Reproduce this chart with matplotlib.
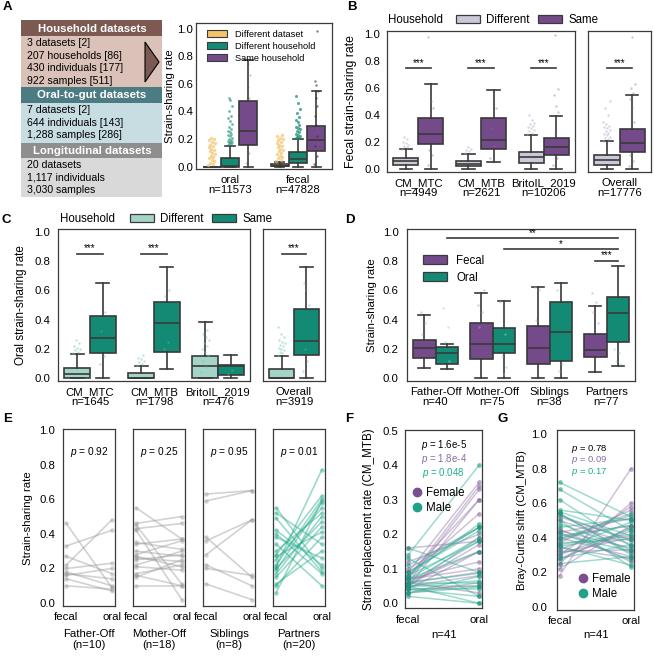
import numpy as np
import matplotlib
matplotlib.use('Agg')
import matplotlib.pyplot as plt
from matplotlib.patches import Patch, Polygon, Rectangle
from matplotlib.lines import Line2D

plt.rcParams['font.family'] = ['Liberation Sans', 'DejaVu Sans']
plt.rcParams['font.size'] = 8.2
plt.rcParams['mathtext.fontset'] = 'custom'
plt.rcParams['mathtext.it'] = 'Liberation Sans:italic'
plt.rcParams['mathtext.rm'] = 'Liberation Sans'

W, H = 654, 657
PURPLE = '#744a8a'
TEAL = '#138b74'
ORANGE = '#f4c46c'
LAVENDER = '#cdc7da'
MINT = '#a4d3c7'
EDGE = '#3a3a3a'

# ---------------- data ----------------
# A: dataset summary
sections = ['Household datasets', 'Oral-to-gut datasets', 'Longitudinal datasets']
household_lines = ['3 datasets [2]', '207 households [86]', '430 individuals [177]', '922 samples [511]']
oral_gut_lines = ['7 datasets [2]', '644 individuals [143]', '1,288 samples [286]']
longitudinal_lines = ['20 datasets', '1,117 individuals', '3,030 samples']

# box stats are (whislo, q1, median, q3, whishi)
a_sites = ['oral\nn=11573', 'fecal\nn=47828']
a_hues = ['Different dataset', 'Different household', 'Same household']
a_diff_dataset = [(0, 0, 0, 0, 0), (0, 0.002, 0.006, 0.016, 0.032)]
a_diff_household = [(0, 0, 0.003, 0.065, 0.152), (0, 0.024, 0.056, 0.104, 0.2)]
a_same_household = [(0, 0.157, 0.258, 0.478, 0.773), (0, 0.114, 0.19, 0.295, 0.546)]
a_oral_pts_dataset = [0.01, 0.02, 0.03, 0.04, 0.05, 0.06, 0.07, 0.08, 0.09, 0.10, 0.11,
                      0.12, 0.13, 0.14, 0.15, 0.16, 0.17, 0.18, 0.19, 0.20, 0.21]
a_oral_pts_house = [0.16, 0.165, 0.17, 0.175, 0.18, 0.185, 0.19, 0.20, 0.21, 0.22, 0.23,
                    0.24, 0.25, 0.26, 0.27, 0.29, 0.31, 0.33, 0.35, 0.37, 0.40, 0.44,
                    0.48, 0.50]
a_oral_pts_same = [0.03, 0.10, 0.18, 0.25, 0.33, 0.41, 0.50, 0.58, 0.66, 0.74]
a_fecal_pts_dataset = [0.04, 0.05, 0.06, 0.07, 0.08, 0.09, 0.10, 0.11, 0.12, 0.13, 0.14,
                       0.15, 0.16, 0.17, 0.18, 0.19, 0.20, 0.21, 0.22, 0.23]
a_fecal_pts_house = [0.205, 0.21, 0.215, 0.22, 0.23, 0.24, 0.25, 0.26, 0.27, 0.28, 0.29,
                     0.30, 0.32, 0.34, 0.36, 0.39, 0.42, 0.46, 0.51]
a_fecal_pts_same = [0.02, 0.08, 0.15, 0.22, 0.30, 0.37, 0.44, 0.50, 0.55, 0.59, 0.62, 0.98]

# B: fecal strain sharing by household
b_datasets = ['CM_MTC\nn=4949', 'CM_MTB\nn=2621', 'BritoIL_2019\nn=10206']
b_diff = [(0, 0.027, 0.059, 0.079, 0.148), (0, 0.02, 0.035, 0.059, 0.111), (0, 0.047, 0.091, 0.128, 0.252)]
b_same = [(0, 0.183, 0.257, 0.38, 0.627), (0.054, 0.146, 0.215, 0.38, 0.585), (0, 0.104, 0.16, 0.227, 0.395)]
b_overall = 'Overall\nn=17776'
b_overall_diff = (0, 0.03, 0.067, 0.104, 0.207)
b_overall_same = (0, 0.124, 0.195, 0.296, 0.548)
b_diff_pts = [[0.15, 0.16, 0.17, 0.18, 0.19, 0.20, 0.22, 0.24],
              [0.12, 0.13, 0.14, 0.15, 0.16],
              [0.26, 0.27, 0.28, 0.29, 0.30, 0.31, 0.32, 0.33, 0.34, 0.36, 0.40]]
b_same_pts = [[0.03, 0.10, 0.14, 0.45, 0.50, 0.98], [0.08, 0.17, 0.30, 0.45],
              [0.03, 0.08, 0.26, 0.42, 0.47, 0.55, 0.59, 0.99]]
b_overall_diff_pts = [0.21, 0.22, 0.23, 0.24, 0.25, 0.26, 0.27, 0.28, 0.29, 0.30, 0.31,
                      0.32, 0.33, 0.35, 0.40, 0.45, 0.50]
b_overall_same_pts = [0.02, 0.06, 0.10, 0.35, 0.45, 0.52, 0.56, 0.60, 0.63, 0.98]

# C: oral strain sharing by household
c_datasets = ['CM_MTC\nn=1645', 'CM_MTB\nn=1798', 'BritoIL_2019\nn=476']
c_diff = [(0, 0.003, 0.029, 0.068, 0.168), (0, 0, 0.005, 0.038, 0.086), (0, 0, 0.086, 0.154, 0.386)]
c_same = [(0, 0.175, 0.273, 0.427, 0.648), (0.063, 0.18, 0.375, 0.523, 0.761), (0.005, 0.025, 0.085, 0.092, 0.16)]
c_overall = 'Overall\nn=3919'
c_overall_diff = (0, 0, 0.003, 0.064, 0.155)
c_overall_same = (0, 0.159, 0.257, 0.473, 0.761)
c_diff_pts = [[0.17, 0.18, 0.19, 0.20, 0.21, 0.22, 0.24, 0.26],
              [0.09, 0.10, 0.11, 0.12, 0.13, 0.14, 0.16],
              [0.04, 0.08, 0.12, 0.16, 0.18, 0.20, 0.22, 0.24, 0.26, 0.28, 0.30, 0.33]]
c_same_pts = [[0.10, 0.15, 0.32, 0.45], [0.20, 0.25, 0.56, 0.60], [0.03, 0.06]]
c_overall_diff_pts = [0.16, 0.17, 0.18, 0.19, 0.20, 0.21, 0.22, 0.23, 0.24, 0.25, 0.26,
                      0.28, 0.30, 0.35]
c_overall_same_pts = [0.05, 0.12, 0.20, 0.50, 0.60, 0.65]

# D: by relationship
d_relations = ['Father-Off\nn=40', 'Mother-Off\nn=75', 'Siblings\nn=38', 'Partners\nn=77']
d_fecal = [(0.068, 0.137, 0.205, 0.262, 0.429), (0, 0.13, 0.233, 0.374, 0.582),
           (0, 0.10, 0.205, 0.354, 0.625), (0.045, 0.148, 0.194, 0.299, 0.49)]
d_oral = [(0.064, 0.096, 0.171, 0.214, 0.233), (0, 0.175, 0.233, 0.34, 0.525),
          (0, 0.121, 0.315, 0.52, 0.65), (0.082, 0.247, 0.445, 0.552, 0.764)]
d_fecal_pts = [[0.45, 0.38, 0.30], [0.50, 0.45, 0.35, 0.60], [0.62, 0.60, 0.40], [0.58, 0.52, 0.45, 0.38]]
d_oral_pts = [[0.48, 0.35, 0.25, 0.12], [0.52, 0.30, 0.15, 0.08, 0.03], [0.60, 0.10, 0.05], [0.20, 0.17, 0.12, 0.10]]
# (group, site, group, site, label); site 0 = fecal, 1 = oral
d_sig = [(0, 1, 3, 1, '**'), (1, 1, 3, 1, '*'), (3, 0, 3, 1, '***')]

# E: paired fecal vs oral sharing
e_relations = ['Father-Off\n(n=10)', 'Mother-Off\n(n=18)', 'Siblings\n(n=8)', 'Partners\n(n=20)']
e_pvals = ['0.92', '0.25', '0.95', '0.01']
fo_fecal = [0.46, 0.33, 0.27, 0.22, 0.20, 0.18, 0.17, 0.16, 0.14, 0.10]
fo_oral = [0.09, 0.42, 0.17, 0.48, 0.23, 0.10, 0.14, 0.20, 0.07, 0.08]
mo_fecal = [0.55, 0.46, 0.45, 0.43, 0.42, 0.35, 0.34, 0.30, 0.27, 0.26, 0.25, 0.22, 0.21,
            0.17, 0.16, 0.15, 0.10, 0.28]
mo_oral = [0.37, 0.50, 0.11, 0.46, 0.02, 0.31, 0.37, 0.27, 0.21, 0.24, 0.28, 0.30, 0.19,
           0.22, 0.10, 0.25, 0.10, 0.36]
sib_fecal = [0.63, 0.59, 0.38, 0.36, 0.28, 0.22, 0.20, 0.11]
sib_oral = [0.65, 0.65, 0.15, 0.48, 0.48, 0.10, 0.16, 0.02]
pa_fecal = [0.55, 0.52, 0.49, 0.42, 0.40, 0.38, 0.34, 0.30, 0.28, 0.27, 0.25, 0.22, 0.21,
            0.20, 0.19, 0.17, 0.15, 0.11, 0.10, 0.06]
pa_oral = [0.20, 0.34, 0.18, 0.22, 0.17, 0.26, 0.10, 0.52, 0.62, 0.41, 0.55, 0.60, 0.77,
           0.47, 0.58, 0.50, 0.44, 0.30, 0.38, 0.59]

# F: strain replacement rate (CM_MTB)
f_female_fecal = [0.16, 0.09, 0.07, 0.06, 0.05, 0.08, 0.04, 0.06, 0.10, 0.05, 0.07, 0.03,
                  0.06, 0.08, 0.05, 0.04, 0.07, 0.12, 0.06, 0.05]
f_female_oral = [0.18, 0.35, 0.34, 0.33, 0.30, 0.26, 0.15, 0.15, 0.22, 0.19, 0.12, 0.06,
                 0.09, 0.30, 0.17, 0.05, 0.10, 0.20, 0.03, 0.08]
f_male_fecal = [0.14, 0.16, 0.11, 0.09, 0.08, 0.07, 0.06, 0.06, 0.05, 0.05, 0.04, 0.04,
                0.03, 0.02, 0.08, 0.07, 0.05, 0.06, 0.09, 0.03, 0.13]
f_male_oral = [0.40, 0.09, 0.22, 0.21, 0.18, 0.19, 0.087, 0.06, 0.05, 0.0, 0.04, 0.02,
               0.078, 0.0, 0.23, 0.15, 0.065, 0.18, 0.22, 0.047, 0.02]
f_pvals = ['1.6e-5', '1.8e-4', '0.048']

# G: Bray-Curtis shift (CM_MTB)
g_female_fecal = [0.18, 0.22, 0.25, 0.27, 0.30, 0.32, 0.35, 0.37, 0.40, 0.43, 0.45, 0.50,
                  0.52, 0.54, 0.41, 0.38, 0.28, 0.34, 0.44, 0.31]
g_female_oral = [0.80, 0.47, 0.60, 0.46, 0.58, 0.33, 0.41, 0.56, 0.29, 0.51, 0.26, 0.36,
                 0.39, 0.31, 0.47, 0.53, 0.44, 0.28, 0.34, 0.40]
g_male_fecal = [0.72, 0.68, 0.62, 0.56, 0.54, 0.53, 0.50, 0.48, 0.46, 0.43, 0.40, 0.39,
                0.37, 0.36, 0.35, 0.33, 0.30, 0.28, 0.25, 0.42, 0.55]
g_male_oral = [0.52, 0.44, 0.35, 0.50, 0.30, 0.38, 0.23, 0.33, 0.51, 0.27, 0.47, 0.54,
               0.39, 0.42, 0.24, 0.49, 0.45, 0.36, 0.29, 0.32, 0.41]
g_pvals = ['0.78', '0.09', '0.17']

# ---------------- helpers ----------------
fig = plt.figure(figsize=(W / 100, H / 100), dpi=100)


def px_axes(l, t, r, b):
    return fig.add_axes([l / W, 1 - b / H, (r - l) / W, (b - t) / H])


def boxes(ax, pos, stats, width, color):
    st = [dict(whislo=s[0], q1=s[1], med=s[2], q3=s[3], whishi=s[4], fliers=[]) for s in stats]
    ax.bxp(st, positions=pos, widths=width, capwidths=width * 0.5, patch_artist=True,
           showfliers=False, manage_ticks=False,
           boxprops=dict(facecolor=color, edgecolor=EDGE, linewidth=1.2),
           medianprops=dict(color=EDGE, linewidth=1.2),
           whiskerprops=dict(color=EDGE, linewidth=1.2),
           capprops=dict(color=EDGE, linewidth=1.2))


def strip(ax, x, vals, color, spread, size=3, alpha=0.5):
    n = len(vals)
    off = ((np.arange(n) * 0.618) % 1 - 0.5) * spread
    ax.scatter(x + off, vals, s=size, color=color, alpha=alpha, lw=0, zorder=3)


def style(ax, ypad):
    for s in ax.spines.values():
        s.set_color(EDGE)
        s.set_linewidth(0.9)
    ax.tick_params(axis='both', length=0)
    ax.tick_params(axis='y', pad=ypad)
    ax.tick_params(axis='x', pad=4.5)
    for lab in ax.get_xticklabels():
        lab.set_linespacing(0.95)


def ylab(ax, text, xc, left, width, size=8.2):
    ax.set_ylabel(text, fontsize=size)
    ax.yaxis.set_label_coords((xc + 5 - left) / width, 0.5)


def label(letter, x, y):
    fig.text(x / W, 1 - y / H, letter, fontsize=9.5, weight='bold', va='top', ha='left')


def sig(ax, x0, x1, y, txt):
    ax.plot([x0, x1], [y, y], color=EDGE, lw=1.2)
    ax.text((x0 + x1) / 2, y + 0.005, txt, ha='center', va='bottom', fontsize=7)


def hh_legend(x_text, x_patch, y, c_diff, c_same):
    fig.text(x_text / W, 1 - y / H, 'Household', fontsize=8.3, va='center')
    fig.legend([Patch(fc=c_diff, ec=EDGE, lw=0.9), Patch(fc=c_same, ec=EDGE, lw=0.9)],
               ['Different', 'Same'], ncol=2, loc='center left',
               bbox_to_anchor=(x_patch / W, 1 - y / H), frameon=False, fontsize=8.3,
               borderpad=0, handlelength=2.1, handleheight=0.75, handletextpad=0.55,
               columnspacing=0.7)


yt = np.arange(0, 1.01, 0.2)
ytl = ['%.1f' % v for v in yt]

# ---------------- A: table ----------------
label('A', 3, 1)
ax = px_axes(0, 0, 190, 200)
ax.set_xlim(0, 190)
ax.set_ylim(200, 0)
ax.axis('off')
head_col = ['#7c5a51', '#4d7b84', '#8e8e8e']
body_col = ['#dbc2b9', '#c8dde2', '#d9d9d9']
bands = [(20, 36, 87), (87, 103, 143), (143, 158, 197)]
for name, lines, (t, m, b), hc, bc in zip(sections, [household_lines, oral_gut_lines, longitudinal_lines],
                                          bands, head_col, body_col):
    ax.add_patch(Rectangle((21, t), 141, m - t, color=hc, lw=0))
    ax.add_patch(Rectangle((21, m), 141, b - m, color=bc, lw=0))
    ax.text(92, (t + m) / 2 + 0.5, name, color='white', weight='bold', fontsize=8.2, ha='center', va='center')
    for i, line in enumerate(lines):
        ax.text(27, m + 7 + 12.7 * i, line, fontsize=7.6, va='center')
ax.add_patch(Polygon([(145, 42), (145, 82), (159, 62)], closed=True, fc='#7c5a51', ec='black', lw=0.8))

# ---------------- A: boxplot ----------------
ax = px_axes(196, 23, 332, 169)
a_cols = [ORANGE, TEAL, PURPLE]
bw = 0.8 / 3
for k, (st, col) in enumerate(zip([a_diff_dataset, a_diff_household, a_same_household], a_cols)):
    boxes(ax, np.arange(2) + (k - 1) * bw, st, bw, col)
strip(ax, -bw, a_oral_pts_dataset, ORANGE, 0.1, size=6, alpha=0.7)
strip(ax, 0, a_oral_pts_house, TEAL, 0.07, size=4, alpha=0.6)
strip(ax, bw, a_oral_pts_same, '#555555', 0.05, size=2, alpha=0.4)
strip(ax, 1 - bw, a_fecal_pts_dataset, ORANGE, 0.1, size=6, alpha=0.7)
strip(ax, 1, a_fecal_pts_house, TEAL, 0.07, size=5, alpha=0.7)
strip(ax, 1 + bw, a_fecal_pts_same, '#333333', 0.05, size=3, alpha=0.6)
ax.set_xlim(-0.5, 1.5)
ax.set_ylim(-0.017, 1.04)
ax.set_yticks(yt, ytl)
ax.set_xticks([0, 1], a_sites)
style(ax, 2)
ylab(ax, 'Strain-sharing rate', 170, 196, 136)
ax.legend([Patch(fc=c, ec=EDGE, lw=0.8) for c in a_cols], a_hues, loc='upper left',
          bbox_to_anchor=(0.03, 1.0), fontsize=6.7, frameon=False, handlelength=2.2,
          handleheight=0.8, borderpad=0.2, labelspacing=0.35, handletextpad=0.8)

# ---------------- B ----------------
label('B', 347, 1)
hh_legend(388, 450, 20, LAVENDER, PURPLE)
ax = px_axes(387, 31, 575, 171.7)
x = np.arange(3)
boxes(ax, x - 0.2, b_diff, 0.4, LAVENDER)
boxes(ax, x + 0.2, b_same, 0.4, PURPLE)
for i in range(3):
    strip(ax, i - 0.2, b_diff_pts[i], '#b3a9c9', 0.12, size=3, alpha=0.5)
    strip(ax, i + 0.2, b_same_pts[i], '#8a6a9c', 0.1, size=3, alpha=0.4)
    sig(ax, i - 0.2, i + 0.2, 0.746, '***')
ax.set_xlim(-0.5, 2.5)
ax.set_ylim(-0.02, 1.022)
ax.set_yticks(yt, ytl)
ax.set_xticks(x, b_datasets)
style(ax, 5)
ylab(ax, 'Fecal strain-sharing rate', 352, 387, 188, size=8.8)

ax = px_axes(588, 31, 651, 171.7)
boxes(ax, [-0.2], [b_overall_diff], 0.4, LAVENDER)
boxes(ax, [0.2], [b_overall_same], 0.4, PURPLE)
strip(ax, -0.2, b_overall_diff_pts, '#b3a9c9', 0.12, size=3, alpha=0.5)
strip(ax, 0.2, b_overall_same_pts, '#8a6a9c', 0.1, size=3, alpha=0.4)
sig(ax, -0.2, 0.2, 0.746, '***')
ax.set_xlim(-0.5, 0.5)
ax.set_ylim(-0.02, 1.022)
ax.set_yticks(yt, [])
ax.set_xticks([0], [b_overall])
style(ax, 5)

# ---------------- C ----------------
label('C', 2, 214)
hh_legend(60, 124, 219, MINT, TEAL)
ax = px_axes(58, 229, 250, 381)
boxes(ax, x - 0.2, c_diff, 0.4, MINT)
boxes(ax, x + 0.2, c_same, 0.4, TEAL)
for i in range(3):
    strip(ax, i - 0.2, c_diff_pts[i], '#7fc9b6', 0.12, size=3, alpha=0.5)
    strip(ax, i + 0.2, c_same_pts[i], '#5fb8a2', 0.1, size=3, alpha=0.4)
for i in range(2):
    sig(ax, i - 0.2, i + 0.2, 0.848, '***')
ax.set_xlim(-0.5, 2.5)
ax.set_ylim(-0.018, 1.018)
ax.set_yticks(yt, ytl)
ax.set_xticks(x, c_datasets)
style(ax, 5.5)
ylab(ax, 'Oral strain-sharing rate', 22, 58, 192, size=8.5)

ax = px_axes(263, 229, 325, 381)
boxes(ax, [-0.2], [c_overall_diff], 0.4, MINT)
boxes(ax, [0.2], [c_overall_same], 0.4, TEAL)
strip(ax, -0.2, c_overall_diff_pts, '#7fc9b6', 0.12, size=3, alpha=0.5)
strip(ax, 0.2, c_overall_same_pts, '#5fb8a2', 0.1, size=3, alpha=0.4)
sig(ax, -0.2, 0.2, 0.848, '***')
ax.set_xlim(-0.5, 0.5)
ax.set_ylim(-0.018, 1.018)
ax.set_yticks(yt, [])
ax.set_xticks([0], [c_overall])
style(ax, 5.5)

# ---------------- D ----------------
label('D', 345, 214)
ax = px_axes(407, 229, 635, 381)
x4 = np.arange(4)
boxes(ax, x4 - 0.2, d_fecal, 0.4, PURPLE)
boxes(ax, x4 + 0.2, d_oral, 0.4, TEAL)
for i in range(4):
    strip(ax, i - 0.2, d_fecal_pts[i], '#b8a3c6', 0.12, size=3, alpha=0.5)
    strip(ax, i + 0.2, d_oral_pts[i], '#8fd0bf', 0.12, size=3, alpha=0.5)
for (g0, s0, g1, s1, txt), yy in zip(d_sig, [0.954, 0.879, 0.803]):
    sig(ax, g0 - 0.2 + 0.4 * s0, g1 - 0.2 + 0.4 * s1, yy, txt)
ax.set_xlim(-0.5, 3.5)
ax.set_ylim(-0.018, 1.018)
ax.set_yticks(yt, ytl)
ax.set_xticks(x4, d_relations)
style(ax, 6)
ylab(ax, 'Strain-sharing rate', 372, 407, 228)
ax.legend([Patch(fc=PURPLE, ec=EDGE, lw=0.9), Patch(fc=TEAL, ec=EDGE, lw=0.9)], ['Fecal', 'Oral'],
          loc='upper left', bbox_to_anchor=(0.044, 0.87), frameon=False, fontsize=8.3,
          borderpad=0, handlelength=2.1, handleheight=0.75, handletextpad=0.8, labelspacing=0.45)

# ---------------- E ----------------
label('E', 3, 413)
e_data = [(fo_fecal, fo_oral), (mo_fecal, mo_oral), (sib_fecal, sib_oral), (pa_fecal, pa_oral)]
for i, (name, (fec, ora), p) in enumerate(zip(e_relations, e_data, e_pvals)):
    left = 63 + 70 * i
    ax = px_axes(left, 429.3, left + 52, 606)
    col = '#9c9c9c' if i < 3 else '#25ab8c'
    for f, o in zip(fec, ora):
        ax.plot([0, 1], [f, o], color=col, alpha=0.45, lw=1.2, marker='o', ms=3.2, mew=0)
    ax.text(0.5, 0.875, r'$p$ = ' + p, ha='center', va='center', fontsize=7.3)
    ax.set_xlim(-0.07, 1.07)
    ax.set_ylim(-0.017, 1.004)
    ax.set_xticks([0, 1], ['fecal', 'oral'])
    ax.set_yticks(yt, ytl if i == 0 else [])
    style(ax, 5.5)
    ax.set_xlabel(name, linespacing=1.15)
    ax.xaxis.set_label_coords(0.5, -0.13)
    if i == 0:
        ylab(ax, 'Strain-sharing rate', 28, left, 52)


# ---------------- F and G ----------------
def paired(ax, ff, fo, mf, mo):
    for f, o in zip(ff, fo):
        ax.plot([0, 1], [f, o], color='#9577aa', alpha=0.45, lw=1.1)
        ax.scatter([0, 1], [f, o], s=12, color='#8a68a0', alpha=0.55, lw=0, zorder=3)
    for f, o in zip(mf, mo):
        ax.plot([0, 1], [f, o], color='#2aae8f', alpha=0.45, lw=1.1)
        ax.scatter([0, 1], [f, o], s=12, color='#17977b', alpha=0.55, lw=0, zorder=3)


def sex_legend(ax, anchor):
    h = [Line2D([], [], ls='', marker='o', ms=6, color='#7b4f8f'),
         Line2D([], [], ls='', marker='o', ms=6, color='#1fa386')]
    ax.legend(h, ['Female', 'Male'], loc='upper left', bbox_to_anchor=anchor, frameon=False,
              fontsize=8.3, borderpad=0, handlelength=0.8, handletextpad=0.4, labelspacing=0.3)


p_cols = ['black', '#8e6aa3', '#1fae8e']

label('F', 345, 413)
ax = px_axes(405, 430, 482.3, 608.3)
paired(ax, f_female_fecal, f_female_oral, f_male_fecal, f_male_oral)
for p, c, yy in zip(f_pvals, p_cols, [0.459, 0.418, 0.377]):
    ax.text(0.5, yy, r'$p$ = ' + p, color=c, ha='center', va='center', fontsize=7)
ax.set_xlim(-0.045, 1.045)
ax.set_ylim(-0.0145, 0.502)
ax.set_xticks([0, 1], ['fecal', 'oral'])
ax.set_yticks(np.arange(0, 0.51, 0.1), ['%.1f' % v for v in np.arange(0, 0.51, 0.1)])
style(ax, 4.5)
ylab(ax, 'Strain replacement rate (CM_MTB)', 370, 405, 77.3, size=8.4)
ax.set_xlabel('n=41')
ax.xaxis.set_label_coords(0.5, -0.12)
sex_legend(ax, (0.02, 0.715))

label('G', 498, 413)
ax = px_axes(557, 430, 634.3, 610)
paired(ax, g_female_fecal, g_female_oral, g_male_fecal, g_male_oral)
for p, c, yy in zip(g_pvals, p_cols, [0.915, 0.848, 0.78]):
    ax.text(0.42, yy, r'$p$ = ' + p, color=c, ha='center', va='center', fontsize=6.8)
ax.set_xlim(-0.035, 1.045)
ax.set_ylim(-0.019, 1.023)
ax.set_xticks([0, 1], ['fecal', 'oral'])
ax.set_yticks(yt, ytl)
style(ax, 7)
ylab(ax, 'Bray-Curtis shift (CM_MTB)', 522, 557, 77.3)
ax.set_xlabel('n=41')
ax.xaxis.set_label_coords(0.5, -0.11)
sex_legend(ax, (0.197, 0.24))

fig.savefig('out.png', dpi=100)
